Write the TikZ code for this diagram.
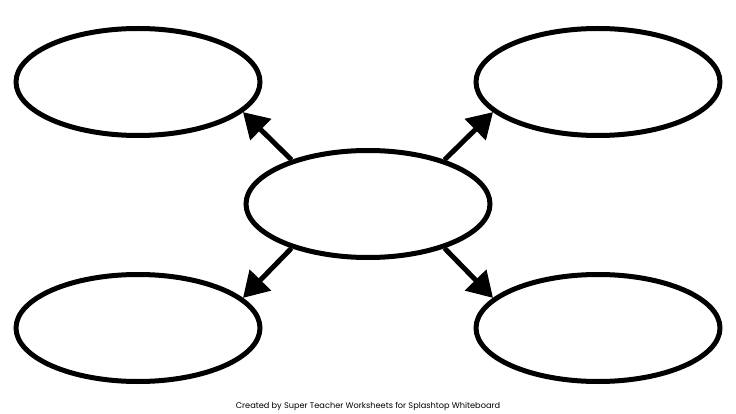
\documentclass[tikz,border=0pt]{standalone}
\usepackage{fontspec}
\newfontfamily\footfont{Poppins}
\usetikzlibrary{shapes.geometric,arrows.meta}
\begin{document}
\begin{tikzpicture}[x=1pt,y=-1pt,
  bubble/.style={draw=black,line width=5pt,ellipse,inner sep=0pt,minimum width=244pt,minimum height=107pt,fill=white},
  link/.style={line width=5pt,-{Triangle[length=25pt,width=29pt]}}]
\fill[white] (0,0) rectangle (736,414);
\useasboundingbox (0,0) rectangle (736,414);
\node[bubble] (tl) at (138,82) {};
\node[bubble] (tr) at (598,82) {};
\node[bubble] (c) at (368,204) {};
\node[bubble] (bl) at (138,328) {};
\node[bubble] (br) at (598,328) {};
\draw[link] (c.150) -- (tl.-16);
\draw[link] (c.30) -- (tr.196);
\draw[link] (c.-150) -- (bl.16);
\draw[link] (c.-30) -- (br.164);
\node[font=\footfont\fontsize{8.2}{9}\selectfont] (ft) at (368,406.5) {Created by Super Teacher Worksheets for Splashtop Whiteboard};
\end{tikzpicture}
\end{document}
